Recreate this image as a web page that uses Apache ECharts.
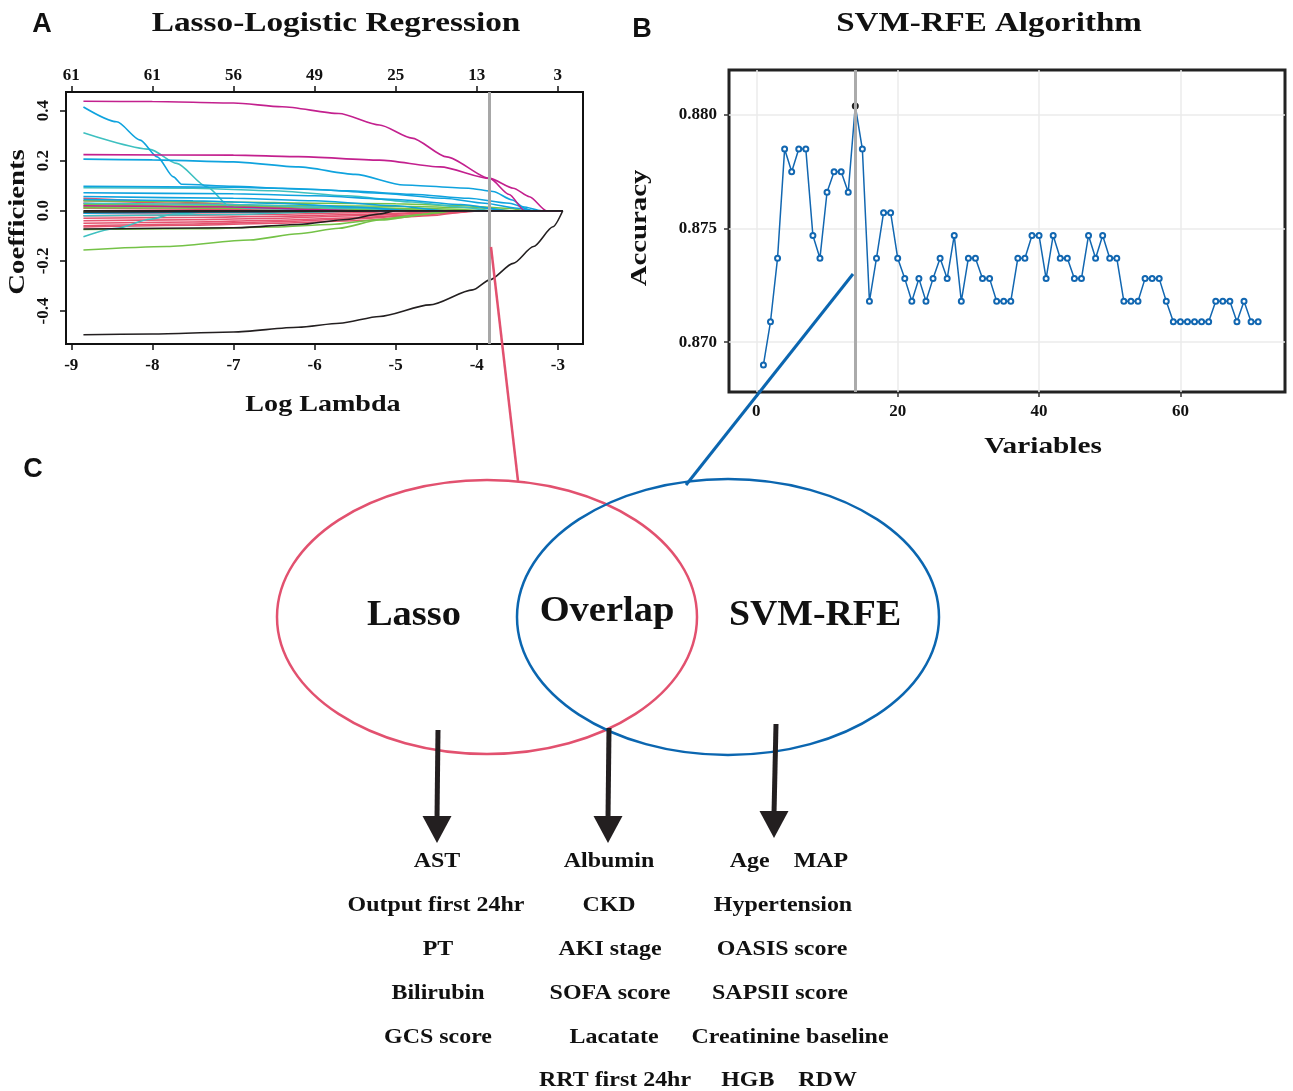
<!DOCTYPE html>
<html lang="en">
<head>
<meta charset="UTF-8">
<title>Lasso-Logistic Regression / SVM-RFE</title>
<script src="https://cdn.jsdelivr.net/npm/echarts@6/dist/echarts.min.js"></script>
<style>html,body{margin:0;padding:0;background:#fff}</style>
</head>
<body>
<div id="chart" style="width:1293px;height:1091px"></div>
<script type="text/javascript">
var SERIF = '"Liberation Serif", "Times New Roman", serif';
var SANS = '"Liberation Sans", Arial, sans-serif';

// ---- panel A: lasso coefficient paths ([log lambda, coefficient]) ----
var logLambdaTicks = [-9, -8, -7, -6, -5, -4, -3];
var dfLabels = [61, 61, 56, 49, 25, 13, 3];
var coefTicks = [-0.4, -0.2, 0, 0.2, 0.4];
var lambdaChosen = -3.85;
var lambdaEnd = -2.94;

var redPaths = [
    [[-8.85, 0.05], [-8, 0.04], [-7, 0.025], [-6.5, 0.015], [-6, 0.005], [-5.6, 0]],
    [[-8.85, 0.04], [-7.5, 0.03], [-6.5, 0.015], [-5.8, 0]],
    [[-8.85, 0.03], [-8, 0.02], [-7.3, 0.01], [-6.8, 0]],
    [[-8.85, 0.01], [-7, 0.005], [-6, 0]],
    [[-8.85, -0.01], [-7, -0.008], [-5.5, 0]],
    [[-8.85, -0.02], [-7.5, -0.018], [-6.5, -0.014], [-5.5, -0.008], [-4.8, 0]],
    [[-8.85, -0.03], [-7.5, -0.027], [-6.5, -0.022], [-5.5, -0.015], [-4.6, -0.006], [-4, 0]],
    [[-8.85, -0.04], [-7.5, -0.036], [-6.5, -0.03], [-5.5, -0.02], [-4.5, -0.008], [-3.9, 0]],
    [[-8.85, -0.05], [-7.5, -0.045], [-6.5, -0.038], [-5.5, -0.028], [-4.7, -0.015], [-4, 0]],
    [[-8.85, -0.06], [-7.5, -0.053], [-6.5, -0.044], [-5.5, -0.032], [-4.8, -0.02], [-4.3, -0.008], [-3.9, 0]],
    [[-8.85, -0.065], [-7.5, -0.058], [-6.5, -0.05], [-5.5, -0.04], [-4.6, -0.02], [-4, 0]]
];
var greenPaths = [
    [[-8.85, -0.157], [-7.82, -0.143], [-6.8, -0.117], [-6.2, -0.092], [-5.7, -0.07], [-5.2, -0.037], [-4.45, -0.008], [-4.3, 0]],
    [[-8.85, 0.04], [-7, 0.035], [-6, 0.03], [-5, 0.028], [-4.2, 0.02], [-3.6, 0.01], [-3.4, 0]],
    [[-8.85, 0.025], [-7, 0.022], [-6, 0.02], [-5, 0.018], [-4, 0.012], [-3.5, 0]],
    [[-8.85, 0.018], [-6, 0.015], [-4.5, 0.008], [-3.8, 0]],
    [[-8.85, 0.012], [-7, 0.01], [-5, 0.005], [-4, 0]],
    [[-8.85, -0.005], [-7, -0.003], [-6, 0]],
    [[-8.85, -0.075], [-7.5, -0.072], [-6.5, -0.065], [-5.8, -0.055], [-5.2, -0.035], [-4.7, -0.015], [-4.3, 0]]
];
var cyanPaths = [
    [[-8.85, 0.311], [-8.03, 0.245], [-7.7, 0.189], [-7.33, 0.096], [-7.04, 0.016], [-6.8, 0.01], [-6, 0.005], [-5.5, 0]],
    [[-8.85, -0.104], [-8.44, -0.07], [-8.03, -0.034], [-7.74, -0.013], [-7.3, -0.005], [-6.5, 0]],
    [[-8.85, 0.092], [-7.5, 0.09], [-6.5, 0.08], [-5.6, 0.06], [-4.8, 0.035], [-4.2, 0.015], [-3.8, 0]],
    [[-8.85, 0.03], [-7, 0.025], [-5.5, 0.01], [-4.8, 0]],
    [[-8.85, -0.02], [-7, -0.015], [-6, -0.005], [-5.5, 0]]
];
var bluePaths = [
    [[-8.85, 0.414], [-8.44, 0.355], [-8.15, 0.282], [-7.94, 0.215], [-7.74, 0.135], [-7.64, 0.106], [-7, 0.098], [-6.4, 0.09], [-5.6, 0.08], [-4.8, 0.066], [-4.1, 0.05], [-3.6, 0.03], [-3.3, 0]],
    [[-8.85, 0.206], [-8, 0.203], [-7, 0.195], [-6.2, 0.175], [-5.5, 0.145], [-4.9, 0.103], [-4.1, 0.09], [-3.8, 0.077], [-3.56, 0.043], [-3.43, 0.016], [-3.2, 0]],
    [[-8.85, 0.098], [-7, 0.094], [-6, 0.085], [-5.2, 0.07], [-4.4, 0.05], [-3.9, 0.03], [-3.5, 0.01], [-3.3, 0]],
    [[-8.85, 0.072], [-7, 0.068], [-6, 0.06], [-5, 0.045], [-4.2, 0.025], [-3.6, 0]],
    [[-8.85, 0.057], [-7, 0.05], [-6, 0.04], [-5, 0.02], [-4.4, 0]],
    [[-8.85, 0.045], [-7.5, 0.04], [-6.5, 0.03], [-5.5, 0.015], [-4.8, 0]],
    [[-8.85, -0.01], [-7, -0.005], [-6, 0]]
];
var magentaPaths = [
    [[-8.85, 0.437], [-8, 0.436], [-7, 0.43], [-6.4, 0.415], [-5.7, 0.388], [-5.2, 0.342], [-4.8, 0.29], [-4.37, 0.215], [-3.84, 0.129], [-3.6, 0.065], [-3.41, 0]],
    [[-8.85, 0.224], [-7, 0.222], [-6.2, 0.216], [-5.2, 0.202], [-4.45, 0.175], [-3.84, 0.129], [-3.55, 0.09], [-3.35, 0.056], [-3.14, 0]],
    [[-8.85, 0.02], [-7, 0.015], [-6, 0.005], [-5.5, 0]]
];
var blackPaths = [
    [[-8.85, -0.495], [-8, -0.492], [-7, -0.484], [-6.2, -0.465], [-5.69, -0.449], [-5.2, -0.422], [-4.58, -0.376], [-4.05, -0.316], [-3.84, -0.276], [-3.55, -0.21], [-3.3, -0.143], [-3.06, -0.064], [-2.94, 0]],
    [[-8.85, -0.073], [-7, -0.068], [-6.2, -0.055], [-5.6, -0.035], [-5.2, -0.013], [-5, 0]],
    [[-8.85, -0.005], [-6, -0.003], [-5, 0]],
    [[-8.85, 0], [-2.94, 0]]
];

// ---- panel B: SVM-RFE accuracy by number of variables ----
var svmAccuracy = [
    0.8690, 0.8709, 0.8737, 0.8785, 0.8775, 0.8785, 0.8785, 0.8747, 0.8737, 0.8766,
    0.8775, 0.8775, 0.8766, 0.8804, 0.8785, 0.8718, 0.8737, 0.8757, 0.8757, 0.8737,
    0.8728, 0.8718, 0.8728, 0.8718, 0.8728, 0.8737, 0.8728, 0.8747, 0.8718, 0.8737,
    0.8737, 0.8728, 0.8728, 0.8718, 0.8718, 0.8718, 0.8737, 0.8737, 0.8747, 0.8747,
    0.8728, 0.8747, 0.8737, 0.8737, 0.8728, 0.8728, 0.8747, 0.8737, 0.8747, 0.8737,
    0.8737, 0.8718, 0.8718, 0.8718, 0.8728, 0.8728, 0.8728, 0.8718, 0.8709, 0.8709,
    0.8709, 0.8709, 0.8709, 0.8709, 0.8718, 0.8718, 0.8718, 0.8709, 0.8718, 0.8709,
    0.8709
];
var svmBest = 14;
var svmXTicks = [0, 20, 40, 60];
var svmYTicks = [0.870, 0.875, 0.880];

// ---- panel C: selected variables ----
var lassoOnly = ['AST', 'Output first 24hr', 'PT', 'Bilirubin', 'GCS score'];
var overlapVars = ['Albumin', 'CKD', 'AKI stage', 'SOFA score', 'Lacatate', 'RRT first 24hr'];
var svmOnly = ['Age    MAP', 'Hypertension', 'OASIS score', 'SAPSII score', 'Creatinine baseline', 'HGB    RDW'];

var chart = echarts.init(document.getElementById('chart'));

function pathSeries(paths, color) {
    return paths.map(function (p) {
        var data = p.slice();
        if (data[data.length - 1][0] < lambdaEnd) data.push([lambdaEnd, 0]);
        return {
            type: 'line', xAxisIndex: 0, yAxisIndex: 0, data: data,
            symbol: 'none', smooth: 0.25, smoothMonotone: 'x', silent: true,
            lineStyle: {color: color, width: 1.6}
        };
    });
}

var series = [].concat(
    pathSeries(redPaths, '#E4526E'),
    pathSeries(greenPaths, '#74C247'),
    pathSeries(cyanPaths, '#3EC0C0'),
    pathSeries(bluePaths, '#0FA3DE'),
    pathSeries(magentaPaths, '#C3208E'),
    pathSeries(blackPaths, '#231F20')
);
series[series.length - 1].markLine = {
    symbol: 'none', silent: true, label: {show: false}, animation: false,
    lineStyle: {color: '#A7A7A7', width: 3, type: 'solid'},
    data: [{xAxis: lambdaChosen}]
};

series.push({
    type: 'line', xAxisIndex: 2, yAxisIndex: 1, z: 4,
    data: svmAccuracy.map(function (v, i) {
        var item = {value: [i + 1, v]};
        if (i + 1 === svmBest) item.itemStyle = {color: '#222', borderColor: '#222'};
        return item;
    }),
    symbol: 'emptyCircle', symbolSize: 5, silent: true,
    lineStyle: {color: '#1267B1', width: 1.5},
    itemStyle: {color: '#1267B1', borderWidth: 1.2},
    markLine: {
        symbol: 'none', silent: true, label: {show: false}, animation: false,
        lineStyle: {color: '#ABABAB', width: 3, type: 'solid'},
        data: [{xAxis: svmBest}]
    }
});

var tickFont = {fontFamily: SERIF, fontWeight: 'bold', fontSize: 17, color: '#111'};

var graphics = [];
// the figure's serif text is letter-spaced, so stretch it horizontally
function addText(x, y, text, size, family, stretch, rotation) {
    graphics.push({
        type: 'text', x: x, y: y, z: 10, scaleX: stretch || 1, rotation: rotation || 0,
        style: {text: text, fill: '#111', font: 'bold ' + size + 'px ' + family,
            textAlign: 'center', textVerticalAlign: 'middle'}
    });
}
addText(42, 25, 'A', 27, SANS);
addText(642, 30, 'B', 27, SANS);
addText(33, 470, 'C', 27, SANS);
addText(336, 24, 'Lasso-Logistic Regression', 28, SERIF, 1.19);
addText(989, 24, 'SVM-RFE Algorithm', 28, SERIF, 1.18);

// axis titles
addText(18, 222, 'Coefficients', 24, SERIF, 1.2, Math.PI / 2);
addText(323, 405, 'Log Lambda', 24, SERIF, 1.17);
addText(640, 228, 'Accuracy', 24, SERIF, 1.2, Math.PI / 2);
addText(1043, 447, 'Variables', 24, SERIF, 1.22);

// Venn diagram
graphics.push({type: 'ellipse', z: 10, shape: {cx: 487, cy: 617, rx: 210, ry: 137},
    style: {fill: 'none', stroke: '#E2516F', lineWidth: 2.5}});
graphics.push({type: 'ellipse', z: 10, shape: {cx: 728, cy: 617, rx: 211, ry: 138},
    style: {fill: 'none', stroke: '#0B66B0', lineWidth: 2.5}});
graphics.push({type: 'line', z: 10, shape: {x1: 491, y1: 247, x2: 518, y2: 481},
    style: {stroke: '#E2516F', lineWidth: 2.5}});
graphics.push({type: 'line', z: 10, shape: {x1: 853, y1: 274, x2: 686, y2: 485},
    style: {stroke: '#0B66B0', lineWidth: 3}});
addText(414, 616, 'Lasso', 35, SERIF, 1.1);
addText(607, 612, 'Overlap', 35, SERIF, 1.1);
addText(815, 616, 'SVM-RFE', 35, SERIF, 1.08);

// arrows
[[438, 730, 437, 843], [609, 728, 608, 843], [776, 724, 774, 838]].forEach(function (a) {
    graphics.push({type: 'line', z: 10, shape: {x1: a[0], y1: a[1], x2: a[2], y2: a[3] - 24},
        style: {stroke: '#231F20', lineWidth: 5}});
    graphics.push({type: 'polygon', z: 10,
        shape: {points: [[a[2] - 14.5, a[3] - 27], [a[2] + 14.5, a[3] - 27], [a[2], a[3]]]},
        style: {fill: '#231F20'}});
});

function addColumn(list, xs) {
    list.forEach(function (t, i) { addText(xs[i], 862 + i * 43.8, t, 21, SERIF, 1.14); });
}
addColumn(lassoOnly, [437, 436, 438, 438, 438]);
addColumn(overlapVars, [609, 609, 610, 610, 614, 615]);
addColumn(svmOnly, [789, 783, 782, 780, 790, 789]);

var option = {
    animation: false,
    backgroundColor: '#fff',
    grid: [
        {left: 66, top: 92, width: 517, height: 252, show: true, borderColor: '#111', borderWidth: 2, backgroundColor: '#fff'},
        {left: 729, top: 70, width: 556, height: 322, show: true, borderColor: '#222', borderWidth: 3, backgroundColor: '#fff'}
    ],
    xAxis: [
        {
            gridIndex: 0, type: 'value', min: -9.065, max: -2.69,
            axisLine: {show: false, onZero: false},
            axisTick: {show: true, length: 6, customValues: logLambdaTicks, lineStyle: {color: '#111', width: 1.5}},
            axisLabel: {customValues: logLambdaTicks, margin: 13, textStyle: tickFont},
            splitLine: {show: false}
        },
        {
            gridIndex: 0, type: 'value', position: 'top', min: -9.065, max: -2.69,
            axisLine: {show: false, onZero: false},
            axisTick: {show: true, length: 6, customValues: logLambdaTicks, lineStyle: {color: '#111', width: 1.5}},
            axisLabel: {
                customValues: logLambdaTicks, margin: 8, textStyle: tickFont,
                formatter: function (v) { return String(dfLabels[logLambdaTicks.indexOf(Math.round(v))]); }
            },
            splitLine: {show: false}
        },
        {
            gridIndex: 1, type: 'value', min: -3.87, max: 74.8,
            axisLine: {show: false, onZero: false},
            axisTick: {show: true, length: 5, customValues: svmXTicks, lineStyle: {color: '#333', width: 1.5}},
            axisLabel: {customValues: svmXTicks, margin: 11, textStyle: tickFont},
            splitLine: {show: true, lineStyle: {color: '#EBEBEB', width: 1.5}}
        }
    ],
    yAxis: [
        {
            gridIndex: 0, type: 'value', min: -0.532, max: 0.474,
            axisLine: {show: false, onZero: false},
            axisTick: {show: true, length: 6, customValues: coefTicks, lineStyle: {color: '#111', width: 1.5}},
            axisLabel: {customValues: coefTicks, rotate: 90, margin: 14, textStyle: tickFont,
                formatter: function (v) { return v.toFixed(1); }},
            splitLine: {show: false}
        },
        {
            gridIndex: 1, type: 'value', min: 0.86781, max: 0.88198,
            axisLine: {show: false, onZero: false},
            axisTick: {show: true, length: 5, customValues: svmYTicks, lineStyle: {color: '#333', width: 1.5}},
            axisLabel: {customValues: svmYTicks, margin: 12, textStyle: tickFont,
                formatter: function (v) { return v.toFixed(3); }},
            splitLine: {show: true, lineStyle: {color: '#EBEBEB', width: 1.5}}
        }
    ],
    series: series,
    graphic: graphics
};
chart.setOption(option);
</script>
</body>
</html>
